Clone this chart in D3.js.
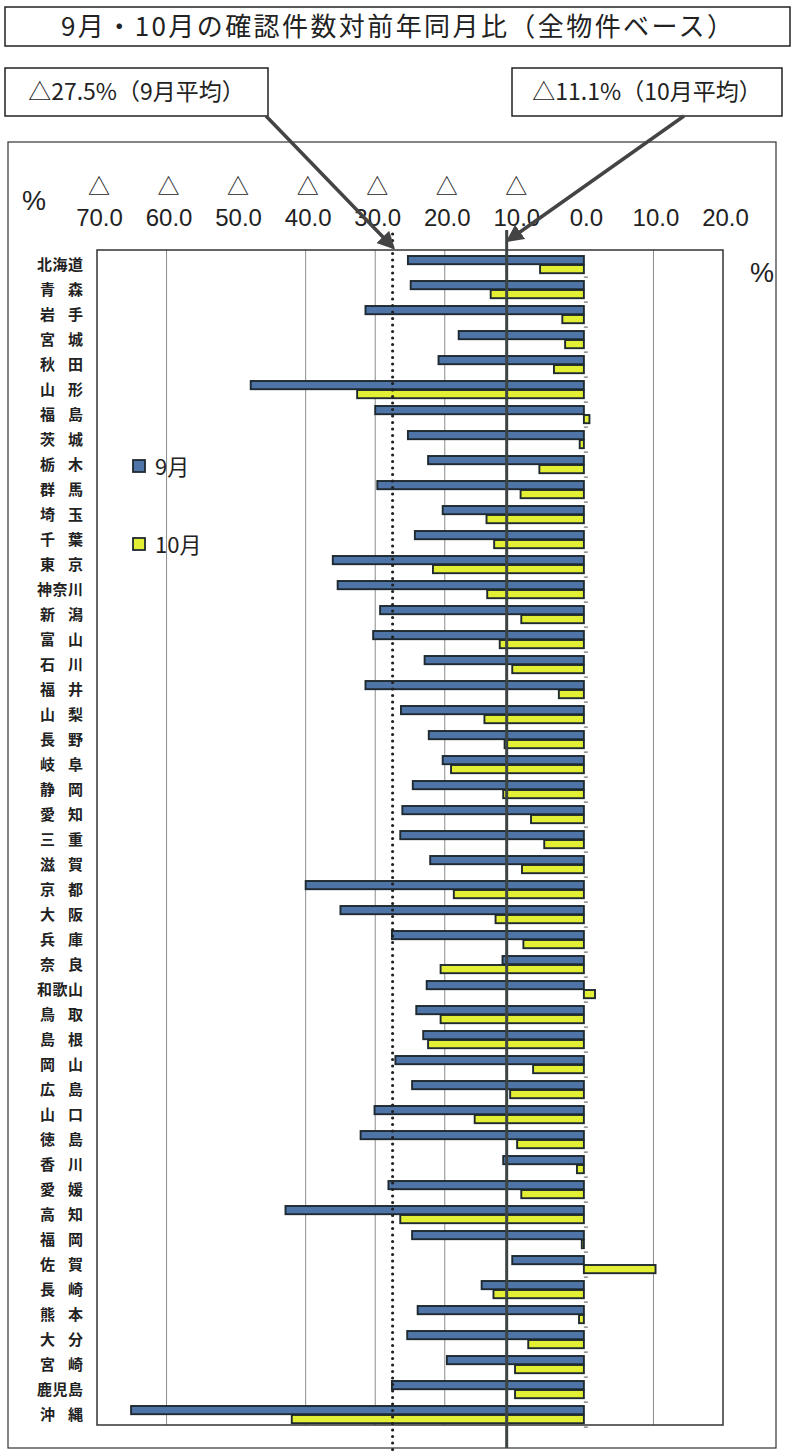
<!DOCTYPE html>
<html>
<head>
<meta charset="utf-8">
<script src="https://cdn.jsdelivr.net/npm/d3@7"></script>
<style>
  body { margin: 0; background: #fff; }
  text { font-family: "Noto Sans CJK JP", sans-serif; fill: #222; }
  text.num, .num text { font-family: "Liberation Sans Narrow", "Arial Narrow", "Liberation Sans", sans-serif; }
</style>
</head>
<body>
<script>
// 都道府県（上から順）
const prefectures = ["北海道","青森","岩手","宮城","秋田","山形","福島","茨城","栃木","群馬",
    "埼玉","千葉","東京","神奈川","新潟","富山","石川","福井","山梨","長野",
    "岐阜","静岡","愛知","三重","滋賀","京都","大阪","兵庫","奈良","和歌山",
    "鳥取","島根","岡山","広島","山口","徳島","香川","愛媛","高知","福岡",
    "佐賀","長崎","熊本","大分","宮崎","鹿児島","沖縄"];

// 対前年同月比（%）, picture estimates
const sepValues = [-25.3,-24.9,-31.4,-18.0,-20.9,-47.9,-30.0,-25.3,-22.4,-29.7,
    -20.3,-24.3,-36.1,-35.4,-29.3,-30.3,-22.9,-31.4,-26.3,-22.3,
    -20.3,-24.6,-26.1,-26.4,-22.1,-40.0,-35.0,-27.6,-11.7,-22.6,
    -24.1,-23.1,-27.1,-24.7,-30.1,-32.1,-11.6,-28.1,-42.9,-24.7,
    -10.3,-14.7,-23.9,-25.4,-19.7,-27.6,-65.1];
const octValues = [-6.3,-13.4,-3.1,-2.7,-4.3,-32.6,0.8,-0.6,-6.4,-9.1,
    -14.0,-12.9,-21.7,-13.9,-9.0,-12.1,-10.3,-3.6,-14.3,-11.4,
    -19.1,-11.6,-7.6,-5.7,-8.9,-18.7,-12.7,-8.7,-20.6,1.6,
    -20.6,-22.4,-7.3,-10.6,-15.7,-9.6,-1.0,-9.0,-26.4,-0.3,
    10.3,-13.0,-0.7,-8.0,-9.9,-9.9,-42.0];

const seriesNames = ["9月", "10月"];
const xTicks = [-70,-60,-50,-40,-30,-20,-10,0,10,20];
const gridValues = [-60,-40,-30,-20,10];
const sepAverage = -27.5;
const octAverage = -11.1;

var dimensions = {
    width: 795,
    height: 1456,
    plot: { left: 97, right: 723, top: 250, bottom: 1425 }
};
var colors = { sep: "#4f74a8", oct: "#e2ef35", edge: "#1f2a30", dark: "#3c4444" };

var svg = d3.select("body").append("svg")
    .attr("width", dimensions.width)
    .attr("height", dimensions.height);

var defs = svg.append("defs");
defs.append("marker")
    .attr("id", "arrow")
    .attr("viewBox", "0 0 10 10")
    .attr("refX", 8).attr("refY", 5)
    .attr("markerWidth", 5).attr("markerHeight", 5)
    .attr("orient", "auto")
    .append("path")
    .attr("d", "M0,0 L10,5 L0,10 z")
    .attr("fill", "#444");

// scales
var xScale = d3.scaleLinear()
    .domain([-70, 20])
    .range([dimensions.plot.left, dimensions.plot.right]);

var yScale = d3.scaleBand()
    .domain(prefectures)
    .range([dimensions.plot.top, dimensions.plot.bottom])
    .paddingInner(0.28)
    .paddingOuter(0.14)
    .align(0.8);

var ySub = d3.scaleBand()
    .domain(seriesNames)
    .range([0, yScale.bandwidth()]);

// title
svg.append("rect")
    .attr("x", 5).attr("y", 7).attr("width", 785).attr("height", 39)
    .attr("fill", "none").attr("stroke", "#222").attr("stroke-width", 1.5);
svg.append("text")
    .attr("x", 397).attr("y", 36)
    .attr("text-anchor", "middle")
    .attr("font-size", 26)
    .attr("textLength", 672)
    .attr("lengthAdjust", "spacing")
    .text("9月・10月の確認件数対前年同月比（全物件ベース）");

// outer frame
svg.append("rect")
    .attr("x", 8).attr("y", 142).attr("width", 768).attr("height", 1306)
    .attr("fill", "none").attr("stroke", "#333").attr("stroke-width", 1.2);

// plot frame + grid
svg.append("g")
    .selectAll("line")
    .data(gridValues)
    .enter()
    .append("line")
    .attr("x1", d => xScale(d)).attr("x2", d => xScale(d))
    .attr("y1", dimensions.plot.top).attr("y2", dimensions.plot.bottom)
    .attr("stroke", "#8c8c8c").attr("stroke-width", 1);

svg.append("rect")
    .attr("x", dimensions.plot.left).attr("y", dimensions.plot.top)
    .attr("width", dimensions.plot.right - dimensions.plot.left)
    .attr("height", dimensions.plot.bottom - dimensions.plot.top)
    .attr("fill", "none").attr("stroke", "#333").attr("stroke-width", 1.5);

// top axis: numbers
var axisG = svg.append("g")
    .attr("class", "num")
    .attr("transform", "translate(2,229)")
    .call(d3.axisTop(xScale).tickValues(xTicks).tickSize(0).tickFormat(d => Math.abs(d).toFixed(1)));
axisG.select(".domain").remove();
axisG.selectAll("text")
    .attr("font-size", 24)
    .attr("fill", "#222");

// △ marks above negative ticks
svg.append("g")
    .selectAll("text")
    .data(xTicks.filter(d => d < 0))
    .enter()
    .append("text")
    .attr("x", d => xScale(d) + 2)
    .attr("y", 194)
    .attr("text-anchor", "middle")
    .attr("font-size", 22)
    .text("△");

svg.append("text").attr("class", "num")
    .attr("x", 22).attr("y", 210).attr("font-size", 27).text("%");
svg.append("text").attr("class", "num")
    .attr("x", 750).attr("y", 282).attr("font-size", 27).text("%");

// category labels
svg.append("g")
    .selectAll("text")
    .data(prefectures)
    .enter()
    .append("text")
    .attr("x", 83)
    .attr("y", d => yScale(d) + yScale.bandwidth() / 2 + 5)
    .attr("text-anchor", "end")
    .attr("font-size", 15)
    .attr("font-weight", "bold")
    .attr("textLength", d => d.length === 2 ? 43 : 46)
    .attr("lengthAdjust", "spacing")
    .text(d => d);

// small category ticks at zero
svg.append("g")
    .selectAll("line")
    .data(prefectures)
    .enter()
    .append("line")
    .attr("x1", xScale(0)).attr("x2", xScale(0) + 4)
    .attr("y1", d => yScale(d) + yScale.bandwidth() + yScale.step() * 0.14)
    .attr("y2", d => yScale(d) + yScale.bandwidth() + yScale.step() * 0.14)
    .attr("stroke", "#555").attr("stroke-width", 1);

// bars
var rows = prefectures.map((p, i) => ({ pref: p, values: [
    { key: "9月", value: sepValues[i], fill: colors.sep },
    { key: "10月", value: octValues[i], fill: colors.oct }
]}));

svg.append("g")
    .selectAll("g")
    .data(rows)
    .enter()
    .append("g")
    .attr("transform", d => "translate(0," + yScale(d.pref) + ")")
    .selectAll("rect")
    .data(d => d.values)
    .enter()
    .append("rect")
    .attr("x", d => xScale(Math.min(0, d.value)))
    .attr("y", d => ySub(d.key) + 0.4)
    .attr("width", d => Math.abs(xScale(d.value) - xScale(0)))
    .attr("height", ySub.bandwidth() - 0.8)
    .attr("fill", d => d.fill)
    .attr("stroke", colors.edge)
    .attr("stroke-width", 1.9);

// average lines
svg.append("line")
    .attr("x1", xScale(sepAverage)).attr("x2", xScale(sepAverage))
    .attr("y1", 234).attr("y2", 1450)
    .attr("stroke", "#222").attr("stroke-width", 3.2)
    .attr("stroke-dasharray", "0,6.5").attr("stroke-linecap", "round");
svg.append("line")
    .attr("x1", xScale(octAverage)).attr("x2", xScale(octAverage))
    .attr("y1", 230).attr("y2", 1448)
    .attr("stroke", colors.dark).attr("stroke-width", 3);

// legend
var legend = svg.append("g");
[{ name: "9月", fill: colors.sep, y: 467 }, { name: "10月", fill: colors.oct, y: 545 }].forEach(d => {
    legend.append("rect")
        .attr("x", 133).attr("y", d.y - 7).attr("width", 12).attr("height", 12)
        .attr("fill", d.fill).attr("stroke", colors.edge).attr("stroke-width", 1.8);
    legend.append("text")
        .attr("x", 155).attr("y", d.y + 8)
        .attr("font-size", 22)
        .text(d.name);
});

// average call-outs
var callouts = [
    { text: "△27.5%（9月平均）", x: 5, w: 263, from: [266, 116], to: [xScale(sepAverage), 247] },
    { text: "△11.1%（10月平均）", x: 512, w: 270, from: [684, 116], to: [xScale(octAverage) + 2, 240] }
];
callouts.forEach(c => {
    svg.append("rect")
        .attr("x", c.x).attr("y", 68).attr("width", c.w).attr("height", 48)
        .attr("fill", "#fff").attr("stroke", "#222").attr("stroke-width", 1.5);
    svg.append("text")
        .attr("x", c.x + c.w / 2).attr("y", 100)
        .attr("text-anchor", "middle")
        .attr("font-size", 23)
        .text(c.text);
    svg.append("line")
        .attr("x1", c.from[0]).attr("y1", c.from[1])
        .attr("x2", c.to[0]).attr("y2", c.to[1])
        .attr("stroke", "#444").attr("stroke-width", 3.5)
        .attr("marker-end", "url(#arrow)");
});
</script>
</body>
</html>
